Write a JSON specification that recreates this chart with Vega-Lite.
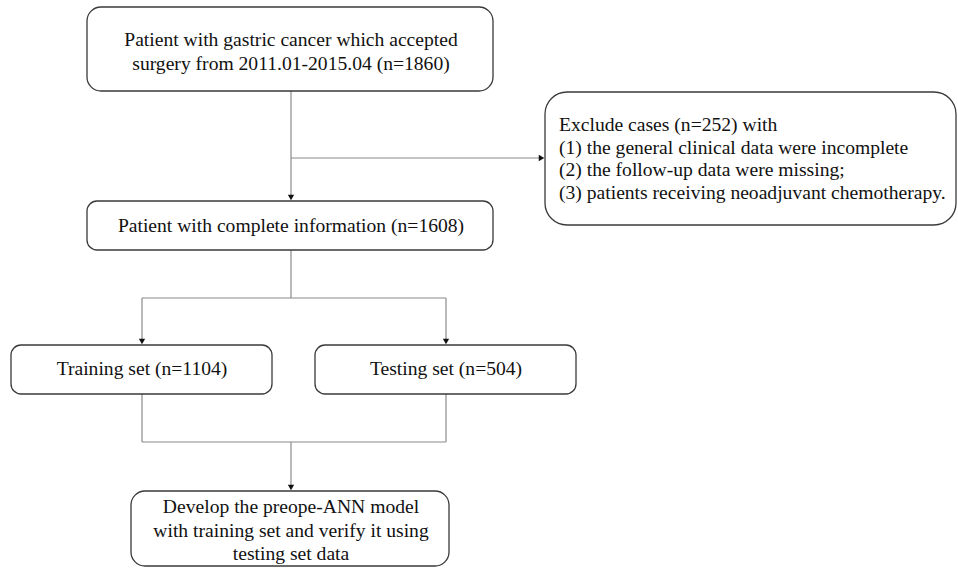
{
  "$schema": "https://vega.github.io/schema/vega-lite/v6.json",
  "autosize": {"type": "fit", "contains": "padding"},
  "width": 958,
  "height": 568,
  "padding": 0,
  "background": "white",
  "config": {"view": {"stroke": null}},
  "datasets": {
    "boxes": [
      {"id": "start", "x1": 87, "x2": 493, "y1": 7, "y2": 91, "r": "m"},
      {"id": "complete", "x1": 87, "x2": 493, "y1": 201, "y2": 250, "r": "s"},
      {"id": "exclude", "x1": 545, "x2": 956, "y1": 92, "y2": 225, "r": "l"},
      {"id": "training", "x1": 11, "x2": 272, "y1": 345, "y2": 394, "r": "s"},
      {"id": "testing", "x1": 315, "x2": 576, "y1": 345, "y2": 394, "r": "s"},
      {"id": "develop", "x1": 131, "x2": 449, "y1": 491, "y2": 566, "r": "m"}
    ],
    "links": [
      {"x1": 291, "y1": 91, "x2": 291, "y2": 197},
      {"x1": 291, "y1": 158, "x2": 541, "y2": 158},
      {"x1": 291, "y1": 250, "x2": 291, "y2": 298},
      {"x1": 142, "y1": 298, "x2": 446, "y2": 298},
      {"x1": 142, "y1": 298, "x2": 142, "y2": 341},
      {"x1": 446, "y1": 298, "x2": 446, "y2": 341},
      {"x1": 142, "y1": 394, "x2": 142, "y2": 442},
      {"x1": 446, "y1": 394, "x2": 446, "y2": 442},
      {"x1": 142, "y1": 442, "x2": 446, "y2": 442},
      {"x1": 291, "y1": 442, "x2": 291, "y2": 487}
    ],
    "arrows": [
      {"x": 291, "y": 197.5, "dir": "down"},
      {"x": 541.5, "y": 158, "dir": "right"},
      {"x": 142, "y": 341.5, "dir": "down"},
      {"x": 446, "y": 341.5, "dir": "down"},
      {"x": 291, "y": 487.5, "dir": "down"}
    ],
    "labels": [
      {"x": 291, "y": 40, "align": "center", "text": "Patient with gastric cancer which accepted\nsurgery from 2011.01-2015.04 (n=1860)"},
      {"x": 291, "y": 226, "align": "center", "text": "Patient with complete information (n=1608)"},
      {"x": 142, "y": 369, "align": "center", "text": "Training set (n=1104)"},
      {"x": 446, "y": 369, "align": "center", "text": "Testing set (n=504)"},
      {"x": 291, "y": 507, "align": "center", "text": "Develop the preope-ANN model\nwith training set and verify it using\ntesting set data"},
      {"x": 559, "y": 125, "align": "left", "text": "Exclude cases (n=252) with\n(1) the general clinical data were incomplete\n(2) the follow-up data were missing;\n(3) patients receiving neoadjuvant chemotherapy."}
    ]
  },
  "layer": [
    {
      "data": {"name": "links"},
      "mark": {"type": "rule", "color": "#8a8a8a", "strokeWidth": 1.2},
      "encoding": {
        "x": {"field": "x1", "type": "quantitative", "scale": {"domain": [0, 958], "nice": false, "zero": false}, "axis": null},
        "x2": {"field": "x2"},
        "y": {"field": "y1", "type": "quantitative", "scale": {"domain": [0, 568], "nice": false, "zero": false, "reverse": true}, "axis": null},
        "y2": {"field": "y2"}
      }
    },
    {
      "data": {"name": "boxes"},
      "transform": [{"filter": "datum.r === 's'"}],
      "mark": {"type": "rect", "fill": "white", "stroke": "#3a3a3a", "strokeWidth": 1.3, "cornerRadius": 10},
      "encoding": {
        "x": {"field": "x1", "type": "quantitative"},
        "x2": {"field": "x2"},
        "y": {"field": "y1", "type": "quantitative"},
        "y2": {"field": "y2"}
      }
    },
    {
      "data": {"name": "boxes"},
      "transform": [{"filter": "datum.r === 'm'"}],
      "mark": {"type": "rect", "fill": "white", "stroke": "#3a3a3a", "strokeWidth": 1.3, "cornerRadius": 14},
      "encoding": {
        "x": {"field": "x1", "type": "quantitative"},
        "x2": {"field": "x2"},
        "y": {"field": "y1", "type": "quantitative"},
        "y2": {"field": "y2"}
      }
    },
    {
      "data": {"name": "boxes"},
      "transform": [{"filter": "datum.r === 'l'"}],
      "mark": {"type": "rect", "fill": "white", "stroke": "#3a3a3a", "strokeWidth": 1.3, "cornerRadius": 22},
      "encoding": {
        "x": {"field": "x1", "type": "quantitative"},
        "x2": {"field": "x2"},
        "y": {"field": "y1", "type": "quantitative"},
        "y2": {"field": "y2"}
      }
    },
    {
      "data": {"name": "arrows"},
      "transform": [{"filter": "datum.dir === 'down'"}],
      "mark": {"type": "point", "shape": "triangle-down", "filled": true, "color": "#111111", "size": 40, "opacity": 1},
      "encoding": {
        "x": {"field": "x", "type": "quantitative"},
        "y": {"field": "y", "type": "quantitative"}
      }
    },
    {
      "data": {"name": "arrows"},
      "transform": [{"filter": "datum.dir === 'right'"}],
      "mark": {"type": "point", "shape": "triangle-right", "filled": true, "color": "#111111", "size": 40, "opacity": 1},
      "encoding": {
        "x": {"field": "x", "type": "quantitative"},
        "y": {"field": "y", "type": "quantitative"}
      }
    },
    {
      "data": {"name": "labels"},
      "transform": [{"filter": "datum.align === 'center'"}],
      "mark": {"type": "text", "font": "Liberation Serif", "fontSize": 19.6, "color": "#111111", "align": "center", "baseline": "middle", "lineBreak": "\n", "lineHeight": 23.5},
      "encoding": {
        "x": {"field": "x", "type": "quantitative"},
        "y": {"field": "y", "type": "quantitative"},
        "text": {"field": "text"}
      }
    },
    {
      "data": {"name": "labels"},
      "transform": [{"filter": "datum.align === 'left'"}],
      "mark": {"type": "text", "font": "Liberation Serif", "fontSize": 19.6, "color": "#111111", "align": "left", "baseline": "middle", "lineBreak": "\n", "lineHeight": 22.7},
      "encoding": {
        "x": {"field": "x", "type": "quantitative"},
        "y": {"field": "y", "type": "quantitative"},
        "text": {"field": "text"}
      }
    }
  ]
}
